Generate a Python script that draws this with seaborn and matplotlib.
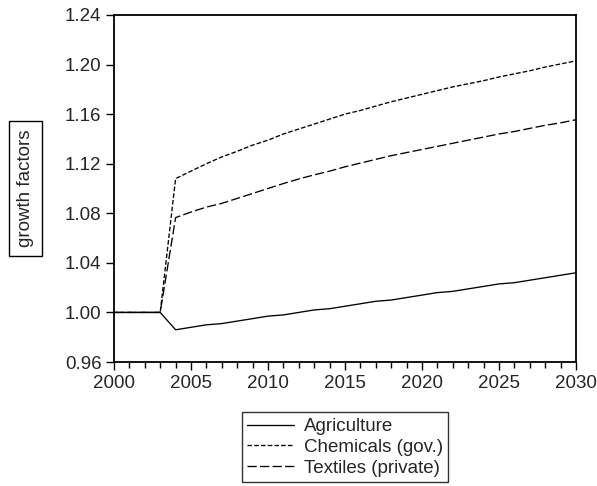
import matplotlib
matplotlib.use("Agg")
import matplotlib.pyplot as plt
from matplotlib.ticker import MultipleLocator
import numpy as np
import pandas as pd
import seaborn as sns

# growth factors per year, 2000-2030
years = list(range(2000, 2031))

agriculture = [1.000, 1.000, 1.000, 1.000,
               0.986, 0.988, 0.990, 0.991, 0.993, 0.995, 0.997, 0.998, 1.000,
               1.002, 1.003, 1.005, 1.007, 1.009, 1.010, 1.012, 1.014, 1.016,
               1.017, 1.019, 1.021, 1.023, 1.024, 1.026, 1.028, 1.030, 1.032]

chemicals = [1.000, 1.000, 1.000, 1.000,
             1.108, 1.114, 1.120, 1.1255, 1.130, 1.135, 1.139, 1.144, 1.148,
             1.152, 1.156, 1.160, 1.163, 1.1665, 1.170, 1.173, 1.176, 1.179,
             1.182, 1.1845, 1.187, 1.190, 1.1925, 1.195, 1.198, 1.2005, 1.203]

textiles = [1.000, 1.000, 1.000, 1.000,
            1.0765, 1.081, 1.085, 1.088, 1.092, 1.096, 1.100, 1.104, 1.1077,
            1.111, 1.114, 1.1175, 1.1205, 1.1235, 1.1265, 1.129, 1.1315, 1.134,
            1.1365, 1.139, 1.1415, 1.144, 1.146, 1.1485, 1.151, 1.153, 1.1555]

series_names = ["Agriculture", "Chemicals (gov.)", "Textiles (private)"]
y_ticks = [0.96, 1.00, 1.04, 1.08, 1.12, 1.16, 1.20, 1.24]
x_ticks = [2000, 2005, 2010, 2015, 2020, 2025, 2030]

df = pd.DataFrame({
    "year": years * 3,
    "value": agriculture + chemicals + textiles,
    "series": [n for n in series_names for _ in years],
})

sns.set_style("ticks")
plt.rcParams["font.family"] = ["Liberation Sans", "DejaVu Sans"]

fig = plt.figure(figsize=(5.97, 4.86), dpi=100)
ax = fig.add_axes([114 / 597, 1 - 362 / 486, 462 / 597, 347 / 486])

sns.lineplot(
    data=df, x="year", y="value", hue="series", style="series",
    palette=["black"] * 3,
    dashes={"Agriculture": "", "Chemicals (gov.)": (3.5, 1.6), "Textiles (private)": (7, 2.5)},
    linewidth=0.95, ax=ax,
)

ax.set_xlim(2000, 2030)
ax.set_ylim(0.96, 1.24)
ax.set_yticks(y_ticks)
ax.set_yticklabels([f"{t:.2f}" for t in y_ticks])
ax.set_xticks(x_ticks)
ax.xaxis.set_minor_locator(MultipleLocator(1))
ax.tick_params(axis="both", which="major", labelsize=13.5, length=6, width=1,
               color="black", pad=3)
ax.tick_params(axis="x", which="minor", length=4, width=1, color="black")
for s in ax.spines.values():
    s.set_color("black")
    s.set_linewidth(1.3)

ax.set_xlabel("")
ax.set_ylabel("growth factors", fontsize=13.5,
              bbox=dict(boxstyle="square,pad=0.45", fc="white", ec="black", lw=1))
ax.yaxis.set_label_coords((34 - 114) / 462, 0.5)

sns.move_legend(
    ax, "upper center", bbox_to_anchor=(0.5, -0.145), title=None,
    fontsize=13.5, frameon=True, fancybox=False, edgecolor="black",
    handlelength=2.5, handletextpad=0.5, labelspacing=0.2,
    borderpad=0.3, borderaxespad=0,
)
ax.get_legend().get_frame().set_linewidth(1.0)

fig.savefig("out.png", dpi=100)
